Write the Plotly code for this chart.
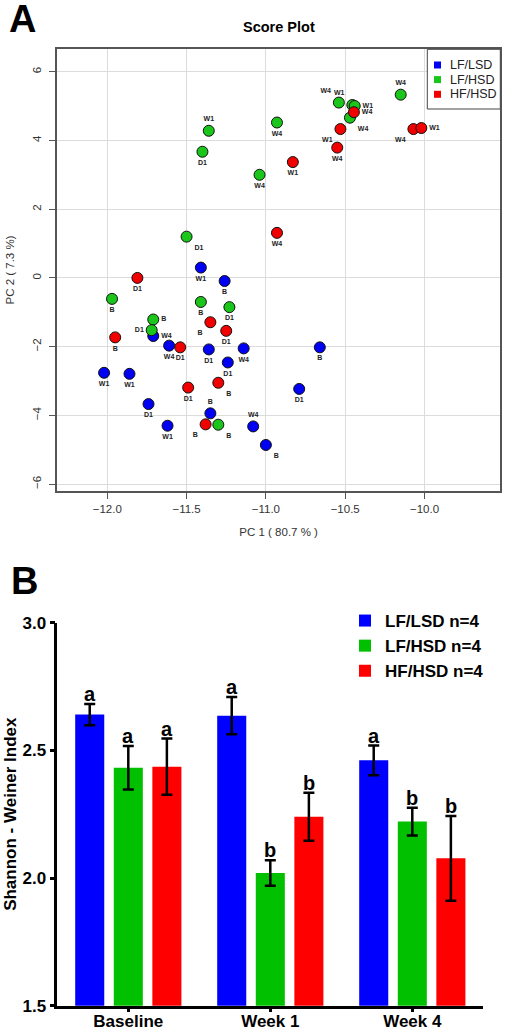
import plotly.graph_objects as go

# ---------------- Panel A data (PCA scores) ----------------
lsd_x = [-11.41, -11.26, -11.71, -11.61, -11.36, -11.14, -11.24, -12.02, -11.86, -11.74, -11.35, -11.62, -11.08, -11.00, -10.66, -10.79]
lsd_y = [0.30, -0.09, -1.69, -1.97, -2.08, -2.05, -2.46, -2.76, -2.79, -3.67, -3.94, -4.30, -4.32, -4.86, -2.02, -3.23]
lsd_lab = ['W1', 'B', 'W4', 'W4', 'D1', 'W4', 'D1', 'W1', 'W1', 'D1', 'B', 'W1', 'W4', 'B', 'B', 'D1']

hsd_x = [-11.36, -11.40, -11.04, -10.93, -11.50, -11.97, -11.41, -11.23, -11.71, -11.72, -11.30, -10.54, -10.455, -10.44, -10.47, -10.15]
hsd_y = [4.28, 3.67, 3.00, 4.52, 1.20, -0.61, -0.70, -0.85, -1.21, -1.52, -4.27, 5.10, 5.03, 5.00, 4.66, 5.33]
hsd_lab = ['W1', 'D1', 'W4', 'W4', 'D1', 'B', 'B', 'D1', 'B', 'D1', 'B', 'W4', 'W1', 'W1', 'W4', 'W4']

hf_x = [-11.81, -11.35, -11.25, -11.95, -11.54, -11.49, -11.30, -11.38, -10.93, -10.83, -10.55, -10.53, -10.445, -10.07, -10.02]
hf_y = [0.00, -1.29, -1.54, -1.73, -2.02, -3.19, -3.05, -4.26, 1.31, 3.37, 3.79, 4.33, 4.82, 4.33, 4.36]
hf_lab = ['D1', 'B', 'D1', 'B', 'D1', 'D1', 'B', 'B', 'W4', 'W1', 'W4', 'W1', 'W4', 'W4', 'W1']

group_names = ['LF/LSD', 'LF/HSD', 'HF/HSD']

# ---------------- Panel B data (Shannon index) ----------------
timepoints = ['Baseline', 'Week 1', 'Week 4']
lsd_mean = [2.640, 2.636, 2.461]
hsd_mean = [2.432, 2.020, 2.221]
hf_mean = [2.436, 2.240, 2.077]
lsd_err = [0.042, 0.073, 0.058]
hsd_err = [0.085, 0.050, 0.054]
hf_err = [0.110, 0.094, 0.166]
lsd_sig = ['a', 'a', 'a']
hsd_sig = ['a', 'b', 'b']
hf_sig = ['a', 'b', 'b']
bar_names = ['LF/LSD n=4', 'LF/HSD n=4', 'HF/HSD n=4']

# ---------------- styling (positions of point labels) ----------------
lsd_pos = ['bottom center', 'bottom center', 'middle right', 'bottom center', 'bottom center', 'bottom center',
           'bottom center', 'bottom center', 'bottom center', 'bottom center', 'top center', 'bottom center',
           'top center', 'bottom right', 'bottom center', 'bottom center']
hsd_pos = ['top center', 'bottom center', 'bottom center', 'bottom center', 'bottom right', 'bottom center',
           'bottom center', 'bottom center', 'middle right', 'middle left', 'bottom right', 'top left',
           'top left', 'middle right', 'bottom right', 'top center']
hf_pos = ['bottom center', 'bottom left', 'bottom center', 'bottom center', 'bottom center', 'bottom center',
          'bottom right', 'bottom left', 'bottom center', 'bottom center', 'bottom center', 'bottom left',
          'middle right', 'bottom left', 'middle right']

SC_COLORS = ['#0000F2', '#19C619', '#F20000']
BAR_COLORS = ['#0000FF', '#00C000', '#FF0000']
FONT = 'Liberation Sans, Arial, Helvetica, sans-serif'

W, H = 506, 1033


def px_x(p):
    return p / W


def px_y(p):
    return 1 - p / H


fig = go.Figure()

# scatter traces
for xs, ys, labs, pos, col, nm in [(lsd_x, lsd_y, lsd_lab, lsd_pos, SC_COLORS[0], group_names[0]),
                                   (hsd_x, hsd_y, hsd_lab, hsd_pos, SC_COLORS[1], group_names[1]),
                                   (hf_x, hf_y, hf_lab, hf_pos, SC_COLORS[2], group_names[2])]:
    fig.add_trace(go.Scatter(
        x=xs, y=ys, text=labs, mode='markers+text', textposition=pos, name=nm,
        textfont=dict(family=FONT, size=7, color='#222222', weight='bold'),
        marker=dict(size=11, color=col, line=dict(color='#111111', width=1)),
        showlegend=False, xaxis='x', yaxis='y', cliponaxis=False))

# bar traces
for name, vals, errs, col in zip(bar_names, [lsd_mean, hsd_mean, hf_mean],
                                 [lsd_err, hsd_err, hf_err], BAR_COLORS):
    fig.add_trace(go.Bar(
        x=timepoints, y=vals, name=name, marker=dict(color=col, line=dict(width=0)),
        error_y=dict(type='data', array=errs, color='black', thickness=2.5, width=5.5),
        xaxis='x2', yaxis='y2', legend='legend2'))

BARGAP = 0.185
slot = (1 - BARGAP) / 3
annotations = []
for j, (vals, errs, sig) in enumerate(zip([lsd_mean, hsd_mean, hf_mean],
                                          [lsd_err, hsd_err, hf_err],
                                          [lsd_sig, hsd_sig, hf_sig])):
    for i in range(len(timepoints)):
        annotations.append(dict(
            x=i + (j - 1) * slot, y=vals[i] + errs[i], xref='x2', yref='y2',
            text=sig[i], showarrow=False, yanchor='bottom', xanchor='center', yshift=-3,
            font=dict(family=FONT, size=20, color='black', weight='bold')))

annotations += [
    dict(x=px_x(22), y=px_y(19), xref='paper', yref='paper', text='A', showarrow=False,
         xanchor='center', yanchor='middle', font=dict(family=FONT, size=38, color='black', weight='bold')),
    dict(x=px_x(24), y=px_y(581), xref='paper', yref='paper', text='B', showarrow=False,
         xanchor='center', yanchor='middle', font=dict(family=FONT, size=38, color='black', weight='bold')),
    dict(x=px_x(279), y=px_y(27), xref='paper', yref='paper', text='Score Plot', showarrow=False,
         xanchor='center', yanchor='middle', font=dict(family=FONT, size=14.5, color='black', weight='bold')),
]

# panel A legend (drawn box, squares and text)
shapes = [dict(type='rect', xref='paper', yref='paper', x0=px_x(427.3), x1=px_x(500.3),
               y0=px_y(109), y1=px_y(49.3), line=dict(color='#444444', width=1),
               fillcolor='white', layer='above')]
leg_rows = [65, 79.6, 94.3]
for nm, col, ry in zip(group_names, SC_COLORS, leg_rows):
    shapes.append(dict(type='rect', xref='paper', yref='paper', x0=px_x(434), x1=px_x(441),
                       y0=px_y(ry + 3.5), y1=px_y(ry - 3.5), line=dict(width=0), fillcolor=col, layer='above'))
    annotations.append(dict(x=px_x(447.5), y=px_y(ry), xref='paper', yref='paper', text=nm, showarrow=False,
                            xanchor='left', yanchor='middle',
                            font=dict(family=FONT, size=12.5, color='#222222')))

grid = '#DCDCDC'
fig.update_layout(
    width=W, height=H, margin=dict(l=0, r=0, t=0, b=0, autoexpand=False),
    paper_bgcolor='white', plot_bgcolor='white',
    font=dict(family=FONT, color='#333333'),
    barmode='group', bargap=BARGAP, bargroupgap=0.247,
    showlegend=True,
    xaxis=dict(domain=[px_x(57.3), px_x(500)], range=[-12.315, -9.524], automargin=False,
               tickvals=[-12.0, -11.5, -11.0, -10.5, -10.0], tickformat='.1f',
               showgrid=True, gridcolor=grid, gridwidth=1, zeroline=False,
               showline=True, mirror=True, linecolor='#555555', linewidth=1.5,
               ticks='outside', ticklen=7, tickcolor='#555555', tickwidth=1,
               tickfont=dict(size=11.5, color='#333333'),
               title=dict(text='PC 1 ( 80.7 % )', font=dict(size=11.5, color='#333333'), standoff=14),
               anchor='y'),
    yaxis=dict(domain=[px_y(490.7), px_y(49.3)], range=[-6.19, 6.65], automargin=False,
               tickvals=[-6, -4, -2, 0, 2, 4, 6], tickangle=-90,
               showgrid=True, gridcolor=grid, gridwidth=1, zeroline=False,
               showline=True, mirror=True, linecolor='#555555', linewidth=1.5,
               ticks='outside', ticklen=7, tickcolor='#555555', tickwidth=1,
               tickfont=dict(size=11.5, color='#333333'), ticklabelstandoff=3,
               title=dict(text='PC 2 ( 7.3 %)', font=dict(size=11.5, color='#333333'), standoff=14),
               anchor='x'),
    xaxis2=dict(domain=[px_x(57.3), px_x(483.3)], range=[-0.5, 2.5], type='category', automargin=False,
                showgrid=False, zeroline=False, showline=True, linecolor='black', linewidth=2.5,
                ticks='outside', ticklen=4, tickwidth=2.5, tickcolor='black',
                tickfont=dict(size=17, color='black', weight='bold'), ticklabelstandoff=-6,
                anchor='y2'),
    yaxis2=dict(domain=[px_y(1005.7), px_y(622.7)], range=[1.5, 3.0], automargin=False,
                tickvals=[1.5, 2.0, 2.5, 3.0], tickformat='.1f',
                showgrid=False, zeroline=False, showline=True, linecolor='black', linewidth=2.5,
                ticks='outside', ticklen=5, tickwidth=2.5, tickcolor='black',
                tickfont=dict(size=17, color='black', weight='bold'),
                title=dict(text='Shannon - Weiner Index', font=dict(size=17, color='black', weight='bold'),
                           standoff=2),
                anchor='x2'),
    legend2=dict(x=px_x(345), xanchor='left', y=px_y(603), yanchor='top',
                 bgcolor='rgba(0,0,0,0)', borderwidth=0,
                 font=dict(size=17, color='black', weight='bold')),
    shapes=shapes,
    annotations=annotations,
)

fig.write_html('out.html', config={'displayModeBar': False},
               post_script="document.body.style.margin='0px';")
